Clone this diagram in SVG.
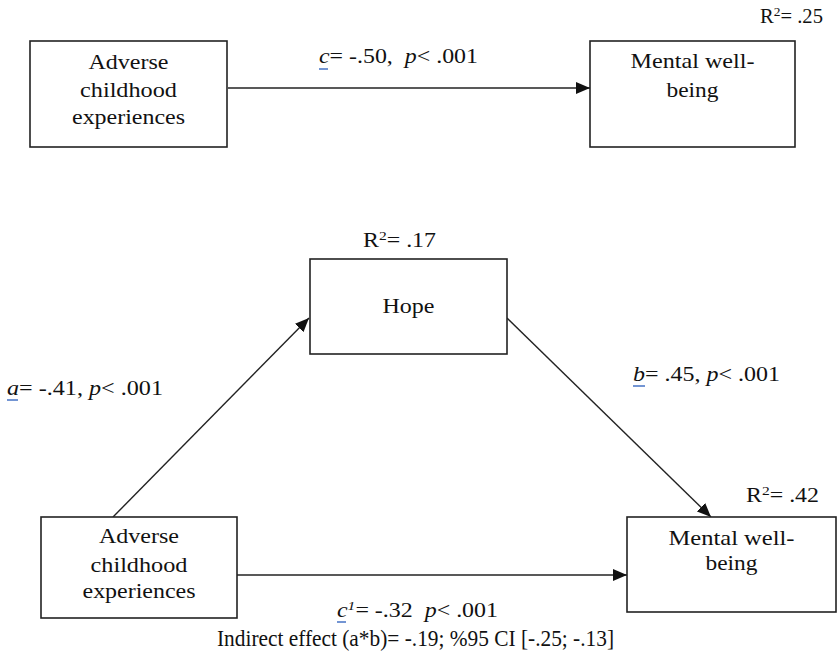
<svg xmlns="http://www.w3.org/2000/svg" width="837" height="662" viewBox="0 0 837 662">
<style>
.box{fill:#fff;stroke:#222;stroke-width:1.6}
.edge{stroke:#222;stroke-width:1.4;fill:none}
text{font-family:"Liberation Serif","Times New Roman","DejaVu Serif",serif;fill:#111;white-space:pre}
.nt{font-size:21px;text-anchor:middle}
.lb{font-size:20px}
.r2{font-size:20px}
.it{font-style:italic}
.ul{stroke:#4472c4;stroke-width:1.5}
</style>
<defs>
<marker id="ah" viewBox="0 0 14 12" refX="14" refY="6" markerWidth="14" markerHeight="12" markerUnits="userSpaceOnUse" orient="auto">
<path d="M0,0 L14,6 L0,12 Z" fill="#111"/>
</marker>
</defs>
<rect width="837" height="662" fill="#fff"/>

<g id="connectors">
<line class="edge" x1="228" y1="88" x2="590" y2="88" marker-end="url(#ah)"/>
<line class="edge" x1="113" y1="517" x2="309" y2="318" marker-end="url(#ah)"/>
<line class="edge" x1="507" y1="318" x2="711" y2="517" marker-end="url(#ah)"/>
<line class="edge" x1="237" y1="575" x2="627" y2="575" marker-end="url(#ah)"/>
</g>

<g id="ace-top">
<rect class="box" x="30" y="41" width="197" height="106"/>
<text class="nt" x="128.5" y="69" textLength="80" lengthAdjust="spacingAndGlyphs">Adverse</text>
<text class="nt" x="128.5" y="97" textLength="97" lengthAdjust="spacingAndGlyphs">childhood</text>
<text class="nt" x="128.5" y="124" textLength="113" lengthAdjust="spacingAndGlyphs">experiences</text>
</g>

<g id="mwb-top">
<rect class="box" x="590" y="41" width="205" height="106"/>
<text class="nt" x="692.5" y="68" textLength="124" lengthAdjust="spacingAndGlyphs">Mental well-</text>
<text class="nt" x="692.5" y="97" textLength="52" lengthAdjust="spacingAndGlyphs">being</text>
</g>

<g id="hope">
<rect class="box" x="310" y="259" width="197" height="95"/>
<text class="nt" x="408.5" y="313" textLength="52" lengthAdjust="spacingAndGlyphs">Hope</text>
</g>

<g id="ace-bottom">
<rect class="box" x="41" y="517" width="196" height="101"/>
<text class="nt" x="139" y="543" textLength="80" lengthAdjust="spacingAndGlyphs">Adverse</text>
<text class="nt" x="139" y="572" textLength="97" lengthAdjust="spacingAndGlyphs">childhood</text>
<text class="nt" x="139" y="598" textLength="113" lengthAdjust="spacingAndGlyphs">experiences</text>
</g>

<g id="mwb-bottom">
<rect class="box" x="627" y="517" width="209" height="95"/>
<text class="nt" x="731.5" y="545" textLength="126" lengthAdjust="spacingAndGlyphs">Mental well-</text>
<text class="nt" x="731.5" y="570" textLength="52" lengthAdjust="spacingAndGlyphs">being</text>
</g>

<g id="labels">
<text class="r2" x="760" y="23" textLength="63" lengthAdjust="spacingAndGlyphs">R<tspan font-size="13" dy="-7">2</tspan><tspan dy="7">= .25</tspan></text>
<text class="r2" x="363" y="247" textLength="73" lengthAdjust="spacingAndGlyphs">R<tspan font-size="13" dy="-7">2</tspan><tspan dy="7">= .17</tspan></text>
<text class="r2" x="746" y="502" textLength="73" lengthAdjust="spacingAndGlyphs">R<tspan font-size="13" dy="-7">2</tspan><tspan dy="7">= .42</tspan></text>

<text class="lb" x="319" y="63" textLength="159" lengthAdjust="spacingAndGlyphs"><tspan class="it">c</tspan>= -.50,  <tspan class="it">p</tspan>&lt; .001</text>
<line class="ul" x1="319" y1="69" x2="328" y2="69"/>

<text class="lb" x="7" y="395" textLength="156" lengthAdjust="spacingAndGlyphs"><tspan class="it">a</tspan>= -.41, <tspan class="it">p</tspan>&lt; .001</text>
<line class="ul" x1="7" y1="400" x2="18" y2="400"/>

<text class="lb" x="633" y="381" textLength="147" lengthAdjust="spacingAndGlyphs"><tspan class="it">b</tspan>= .45, <tspan class="it">p</tspan>&lt; .001</text>
<line class="ul" x1="633" y1="386" x2="645" y2="386"/>

<text class="lb" x="337" y="617" font-size="21" textLength="161" lengthAdjust="spacingAndGlyphs"><tspan class="it">c</tspan><tspan class="it" font-size="13" dy="-7">1</tspan><tspan dy="7">= -.32  </tspan><tspan class="it">p</tspan>&lt; .001</text>
<line class="ul" x1="337" y1="622" x2="346" y2="622"/>

<text x="217" y="646" style="font-size:24px" textLength="397" lengthAdjust="spacingAndGlyphs">Indirect effect (a*b)= -.19; %95 CI [-.25; -.13]</text>
</g>
</svg>
